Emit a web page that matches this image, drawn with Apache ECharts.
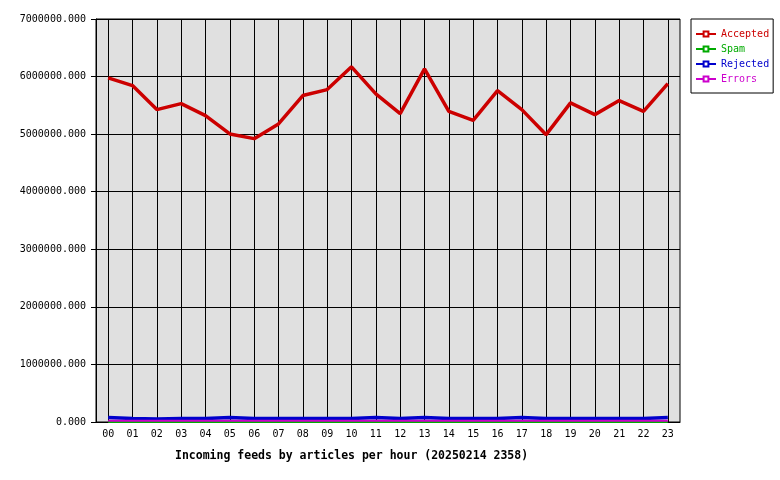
<!DOCTYPE html>
<html><head><meta charset="utf-8">
<script src="https://cdn.jsdelivr.net/npm/echarts@6/dist/echarts.min.js"></script>
<style>html,body{margin:0;padding:0;background:#fff}#c{width:780px;height:480px}</style>
</head><body><div id="c"></div><script>
const hours = ['00','01','02','03','04','05','06','07','08','09','10','11','12','13','14','15','16','17','18','19','20','21','22','23'];
const accepted = [5977000,5843000,5426000,5530000,5322000,5003000,4922000,5177000,5670000,5774000,6169000,5700000,5357000,6134000,5397000,5240000,5757000,5426000,4991000,5543000,5339000,5583000,5397000,5878000];
const spam = [0,0,0,0,0,0,0,0,0,0,0,0,0,0,0,0,0,0,0,0,0,0,0,0];
const rejected = [80000,60000,52000,60000,60000,80000,60000,60000,60000,60000,60000,80000,60000,80000,60000,60000,60000,80000,60000,60000,60000,60000,60000,80000];
const errors = [20000,20000,20000,20000,20000,20000,20000,20000,20000,20000,20000,20000,20000,20000,20000,20000,20000,20000,20000,20000,20000,20000,20000,20000];
const seriesNames = ['Accepted','Spam','Rejected','Errors'];
const colors = ['#cc0000','#00aa00','#0000cc','#cc00cc'];
const titleText = 'Incoming feeds by articles per hour (20250214 2358)';
const yMax = 7000000, yStep = 1000000;

const FONT = '"DejaVu Sans Mono", monospace';
const chart = echarts.init(document.getElementById('c'), null, {renderer:'canvas'});
const dataSets = [accepted, spam, rejected, errors];
const widths = [3.5, 2, 3.5, 2];
const zs = [10, 7, 8, 9];
chart.setOption({
  animation: false,
  backgroundColor: '#ffffff',
  title: {
    text: titleText, left: 170, top: 445,
    textStyle: {fontFamily: FONT, fontSize: 11.5, fontWeight: 'bold', color: '#000'}
  },
  legend: {
    orient: 'vertical', left: 691, top: 19,
    backgroundColor: '#fff', borderColor: '#000', borderWidth: 1,
    padding: [10, 4, 9, 4], itemGap: 5, itemWidth: 20, itemHeight: 6,
    textStyle: {fontFamily: FONT, fontSize: 10, lineHeight: 10},
    data: seriesNames.map((n, i) => ({name: n, textStyle: {color: colors[i]}}))
  },
  grid: {
    left: 96, right: 100, top: 19, bottom: 58,
    show: true, backgroundColor: '#e0e0e0', borderColor: '#000', borderWidth: 1
  },
  xAxis: {
    type: 'category', data: hours, boundaryGap: true,
    axisLine: {lineStyle: {color: '#000', width: 1}},
    axisTick: {alignWithLabel: true, length: 5, lineStyle: {color: '#000'}},
    axisLabel: {fontFamily: FONT, fontSize: 10, color: '#000', margin: 7, interval: 0},
    splitLine: {show: true, alignWithLabel: true, interval: 0, lineStyle: {color: '#000', width: 1}}
  },
  yAxis: {
    type: 'value', min: 0, max: yMax, interval: yStep,
    axisLine: {show: true, lineStyle: {color: '#000'}},
    axisTick: {show: true, length: 5, lineStyle: {color: '#000'}},
    axisLabel: {fontFamily: FONT, fontSize: 10, color: '#000', margin: 10,
      formatter: v => v.toFixed(3)},
    splitLine: {show: true, lineStyle: {color: '#000', width: 1}}
  },
  series: seriesNames.map((n, i) => ({
    name: n, type: 'line', data: dataSets[i],
    symbol: 'emptyRect', symbolSize: 3, showSymbol: false,
    color: colors[i],
    lineStyle: {color: colors[i], width: widths[i]},
    z: zs[i]
  }))
});
</script></body></html>
